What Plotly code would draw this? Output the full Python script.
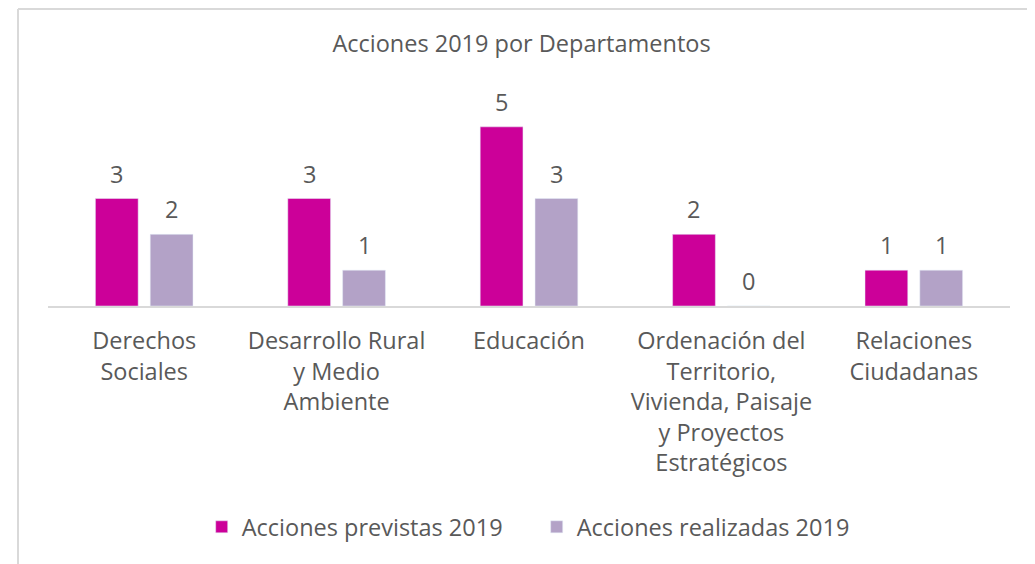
import plotly.graph_objects as go

# ---------------------------
# Data
# ---------------------------
departamentos = [
    "Derechos<br>Sociales",
    "Desarrollo Rural<br>y Medio<br>Ambiente",
    "Educación",
    "Ordenación del<br>Territorio,<br>Vivienda, Paisaje<br>y Proyectos<br>Estratégicos",
    "Relaciones<br>Ciudadanas",
]
previstas = [3, 3, 5, 2, 1]
realizadas = [2, 1, 3, 0, 1]

FONT = "Open Sans"
GRIS = "#595959"
SIZE = 23.5
BARGAP = 0.43
BARGROUPGAP = 0.22

fig = go.Figure()

fig.add_trace(go.Bar(
    x=departamentos, y=previstas,
    name="Acciones previstas 2019",
    marker=dict(color="#CC0099"),
))
fig.add_trace(go.Bar(
    x=departamentos, y=realizadas,
    name="Acciones realizadas 2019",
    marker=dict(color="#B3A2C7"),
))

# data labels: Excel leaves a wider gap above the bar than plotly's "outside" text
plot_w = 1027 - 40 - 25
slot = plot_w / len(departamentos) * (1 - BARGAP) / 2
for serie, dx in ((previstas, -slot / 2), (realizadas, slot / 2)):
    for cat, v in zip(departamentos, serie):
        fig.add_annotation(x=cat, y=v, text=str(v), showarrow=False,
                           xshift=dx, yshift=7, yanchor="bottom",
                           font=dict(size=SIZE, color=GRIS))

# chart frame (top and left edges of the cropped chart box)
fig.add_shape(type="line", xref="paper", yref="paper",
              x0=-0.0312, x1=1.05, y0=1.381, y1=1.381,
              line=dict(color="#D9D9D9", width=2))
fig.add_shape(type="line", xref="paper", yref="paper",
              x0=-0.0312, x1=-0.0312, y0=1.381, y1=-1.3,
              line=dict(color="#D9D9D9", width=2))

# the page body has an 8px margin, so the figure is drawn 8px in
fig.update_layout(
    width=1027, height=556,
    margin=dict(l=40, r=25, t=83, b=258),
    paper_bgcolor="white", plot_bgcolor="white",
    font=dict(family=FONT, color=GRIS, size=SIZE),
    title=dict(text="Acciones 2019 por Departamentos",
               x=0.5, xanchor="center", y=1 - 36 / 556, yanchor="middle",
               font=dict(size=SIZE, color=GRIS)),
    barmode="group", bargap=BARGAP, bargroupgap=BARGROUPGAP,
    legend=dict(orientation="h", x=0.508, xanchor="center",
                y=-1.028, yanchor="middle",
                font=dict(size=SIZE, color=GRIS),
                entrywidth=290, entrywidthmode="pixels",
                traceorder="normal"),
    xaxis=dict(showline=True, linecolor="#D9D9D9", linewidth=2,
               ticks="", ticklabelstandoff=13,
               tickfont=dict(size=SIZE, color=GRIS)),
    yaxis=dict(range=[0, 6], visible=False),
)

fig.write_html("out.html")
